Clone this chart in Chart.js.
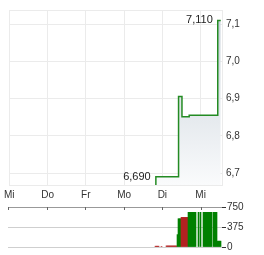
<!DOCTYPE html>
<html>
<head>
<meta charset="utf-8">
<script src="https://cdn.jsdelivr.net/npm/chart.js@4"></script>
<style>
  html, body { margin: 0; padding: 0; background: #fff; }
  #wrap { position: relative; width: 264px; height: 255px; overflow: hidden; }
  #price { position: absolute; left: 0; top: 0; }
  #volume { position: absolute; left: 0; top: 200px; }
</style>
</head>
<body>
<div id="wrap">
  <canvas id="price" width="264" height="205"></canvas>
  <canvas id="volume" width="264" height="55"></canvas>
</div>
<script>
// x axis is in trading days, 0 = first "Mi"
const dayTicks = [0, 1, 2, 3, 4, 5];
const dayLabels = ['Mi', 'Do', 'Fr', 'Mo', 'Di', 'Mi'];
const X_MAX = 5.558;

// price: each value holds from its time up to the next one
const priceTimes = [3.826, 3.830, 4.423, 4.512, 4.701, 5.447, 5.525];
const priceValues = [6.665, 6.690, 6.906, 6.851, 6.855, 7.110, 7.110];
const priceTicks = [6.7, 6.8, 6.9, 7.0, 7.1];
const Y_MIN = 6.668, Y_MAX = 7.138;

// hi / lo labels
const markTimes = [5.447, 3.826];
const markValues = [7.110, 6.690];

// volume bars: runs of start, end, volume, up/down
const volStart = [3.814, 3.970, 4.100, 4.377, 4.411, 4.489, 4.663, 4.930, 4.990, 5.067, 5.337, 5.423];
const volEnd   = [3.918, 3.996, 4.377, 4.411, 4.489, 4.663, 4.896, 4.964, 5.016, 5.301, 5.423, 5.527];
const volValue = [15, 10, 20, 232, 530, 555, 650, 650, 650, 650, 650, 110];
const volUp    = [false, false, false, true, true, false, true, true, true, true, true, true];
const volTicks = [0, 375, 750];

const FONT = '"Liberation Sans", Arial, sans-serif';
const gridColor = '#ebebeb';
const green = '#008000';
const red = '#b22222';

const fmt = (v, d) => v.toFixed(d).replace('.', ',');

// one bar per pixel-wide slot
const slot = 1 / 38.5;
const volX = [], volY = [], volColor = [];
for (let k = Math.floor(volStart[0] / slot); k * slot < volEnd[volEnd.length - 1]; k++) {
  const c = (k + 0.5) * slot;
  const i = volStart.findIndex((s, j) => c >= s && c < volEnd[j]);
  volX.push(c);
  volY.push(i < 0 ? null : volValue[i]);
  volColor.push(i >= 0 && volUp[i] ? green : red);
}

const priceLabels = {
  id: 'priceLabels',
  beforeDatasetsDraw(chart) {
    const { ctx, chartArea } = chart;
    ctx.save();
    ctx.strokeStyle = gridColor;
    ctx.lineWidth = 1;
    ctx.beginPath();
    ctx.moveTo(chartArea.left, chartArea.top + 0.5);
    ctx.lineTo(chartArea.right, chartArea.top + 0.5);
    ctx.stroke();
    ctx.restore();
  },
  afterDatasetsDraw(chart) {
    const { ctx, scales: { x, y } } = chart;
    ctx.save();
    ctx.font = '11px ' + FONT;
    ctx.fillStyle = '#222';
    ctx.textAlign = 'right';
    ctx.textBaseline = 'middle';
    markTimes.forEach((t, i) => {
      ctx.fillText(fmt(markValues[i], 3), x.getPixelForValue(t) - 5, y.getPixelForValue(markValues[i]));
    });
    ctx.restore();
  }
};

new Chart(document.getElementById('price'), {
  type: 'line',
  data: {
    datasets: [{
      data: priceTimes.map((t, i) => ({ x: t, y: priceValues[i] })),
      stepped: 'before',
      borderColor: '#238b23',
      borderWidth: 1.5,
      pointRadius: 0,
      fill: 'start',
      backgroundColor: (c) => {
        const area = c.chart.chartArea;
        if (!area) return 'rgba(0,0,0,0)';
        const g = c.chart.ctx.createLinearGradient(0, area.top, 0, area.bottom);
        g.addColorStop(0, 'rgb(196,206,215)');
        g.addColorStop(1, 'rgb(250,251,252)');
        return g;
      }
    }]
  },
  options: {
    responsive: false,
    animation: false,
    layout: { padding: { left: 8, top: 7, right: 0, bottom: 2 } },
    plugins: { legend: { display: false }, tooltip: { enabled: false } },
    scales: {
      x: {
        type: 'linear',
        bounds: 'data',
        min: 0,
        max: X_MAX,
        afterBuildTicks: (s) => { s.ticks = dayTicks.map(v => ({ value: v })); },
        afterFit: (s) => { s.height = 18; },
        grid: { color: gridColor, drawTicks: false },
        border: { color: gridColor },
        ticks: {
          padding: 4,
          maxRotation: 0,
          autoSkip: false,
          color: '#333',
          font: { family: FONT, size: 10 },
          callback: (v) => dayLabels[dayTicks.indexOf(v)] ?? ''
        }
      },
      y: {
        position: 'right',
        bounds: 'data',
        min: Y_MIN,
        max: Y_MAX,
        afterBuildTicks: (s) => { s.ticks = priceTicks.map(v => ({ value: v })); },
        afterFit: (s) => { s.width = 42; },
        grid: { color: gridColor, drawTicks: false },
        border: { color: gridColor },
        ticks: {
          padding: 4,
          color: '#333',
          font: { family: FONT, size: 10 },
          callback: (v) => fmt(v, 1)
        }
      }
    }
  },
  plugins: [priceLabels]
});

const volDayTicks = {
  id: 'volDayTicks',
  afterDraw(chart) {
    const { ctx, scales: { x }, chartArea } = chart;
    ctx.save();
    ctx.strokeStyle = '#666';
    ctx.lineWidth = 1;
    dayTicks.forEach(d => {
      const px = Math.round(x.getPixelForValue(d)) + 0.5;
      ctx.beginPath();
      ctx.moveTo(px, chartArea.top);
      ctx.lineTo(px, chartArea.top + 3);
      ctx.stroke();
    });
    ctx.restore();
  }
};

new Chart(document.getElementById('volume'), {
  type: 'bar',
  data: {
    datasets: [{
      data: volX.map((t, i) => ({ x: t, y: volY[i] })),
      backgroundColor: volColor,
      borderWidth: 0,
      barPercentage: 1,
      categoryPercentage: 1
    }]
  },
  options: {
    responsive: false,
    animation: false,
    layout: { padding: { left: 8, top: 7, right: 0, bottom: 8 } },
    plugins: { legend: { display: false }, tooltip: { enabled: false } },
    scales: {
      x: { type: 'linear', display: false, offset: false, bounds: 'data', min: 0, max: X_MAX },
      y: {
        position: 'right',
        min: 0,
        max: 750,
        afterBuildTicks: (s) => { s.ticks = volTicks.map(v => ({ value: v })); },
        afterFit: (s) => { s.width = 42; },
        grid: {
          color: (c) => (c.tick && c.tick.value === 750 ? '#999' : '#cfcfcf'),
          tickColor: '#333',
          tickLength: 4
        },
        border: { display: false },
        ticks: {
          padding: 1,
          color: '#333',
          font: { family: FONT, size: 10 },
          callback: (v) => String(v)
        }
      }
    }
  },
  plugins: [volDayTicks]
});
</script>
</body>
</html>
